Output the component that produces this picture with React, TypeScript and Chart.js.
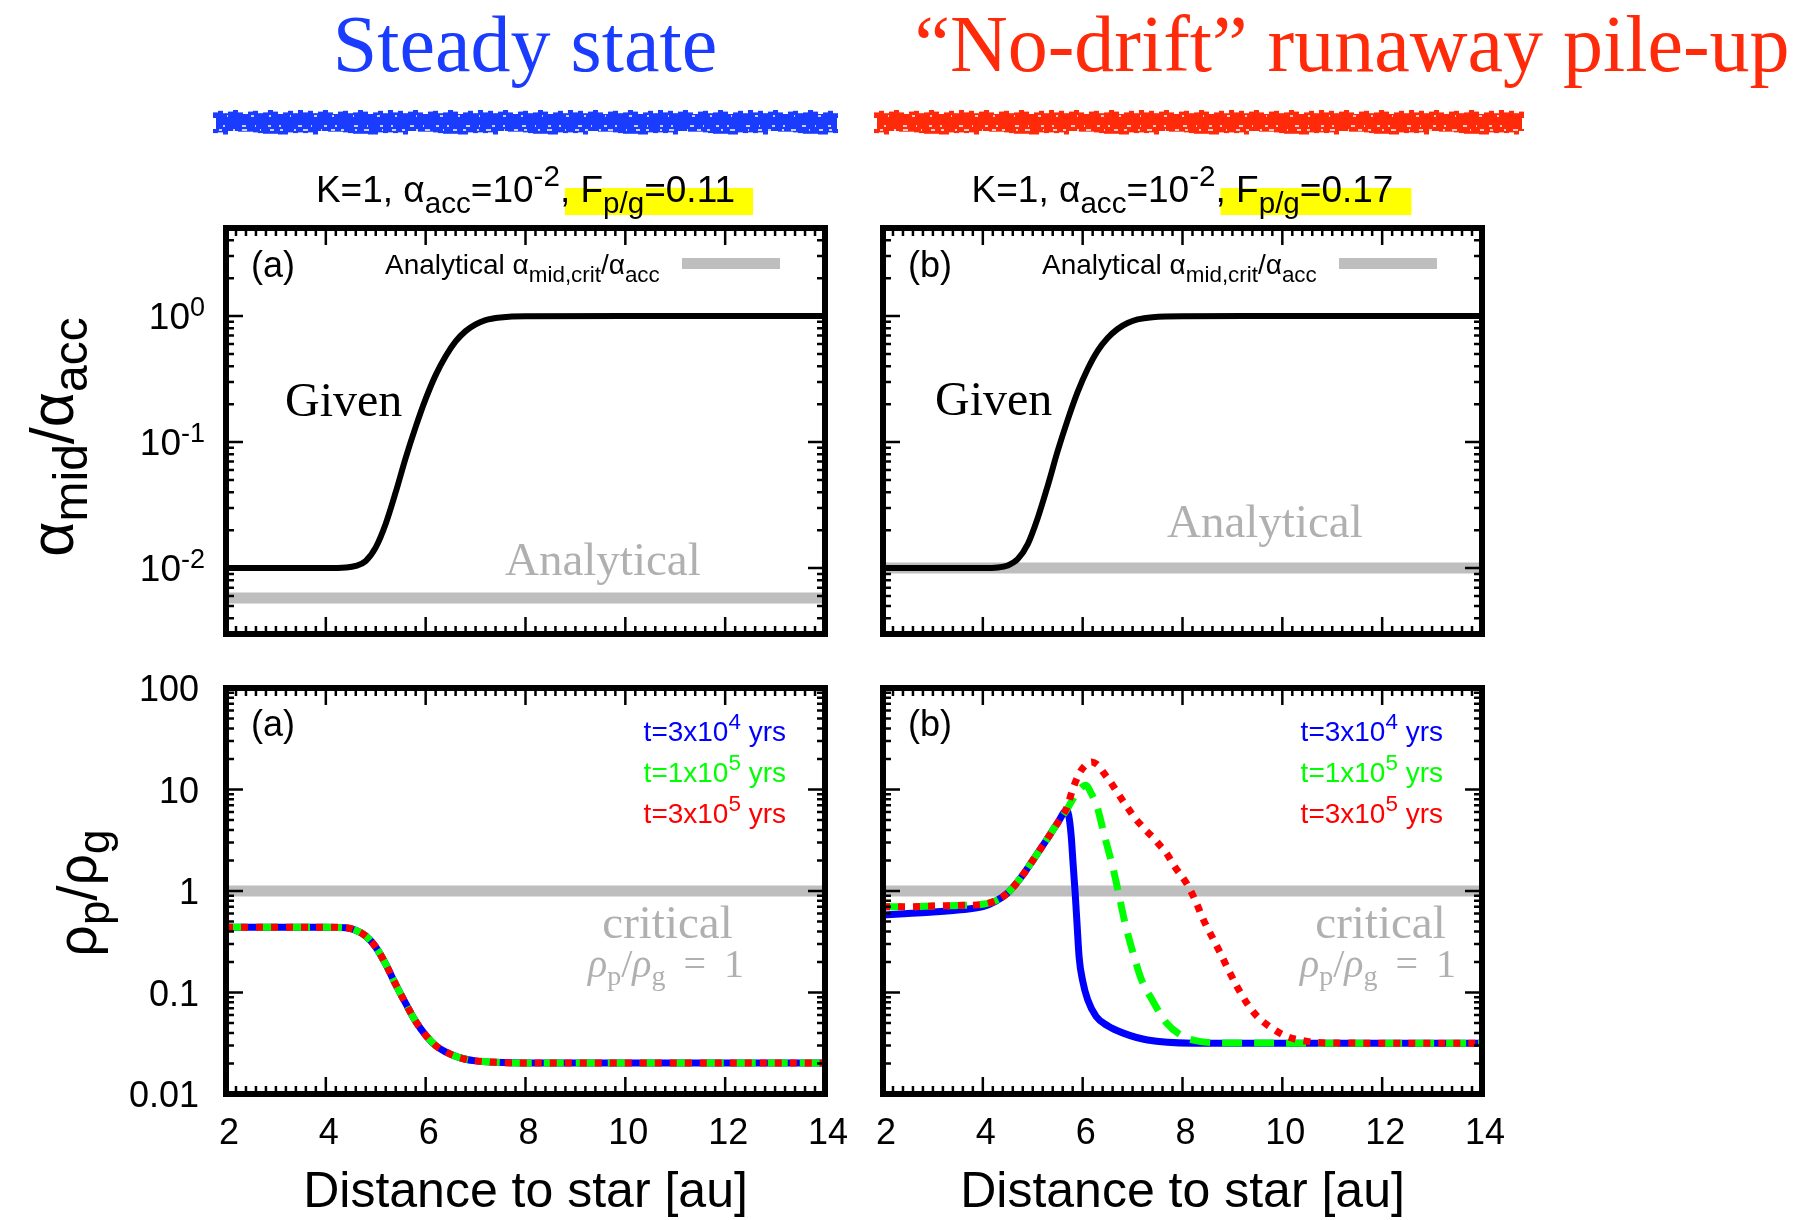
import React, { useEffect, useRef } from "react";
import { Chart, registerables } from "chart.js";

Chart.register(...registerables);

// ---------------- data ----------------
const xRange = [2, 14];
const xTickValues = [2, 4, 6, 8, 10, 12, 14];
const yTopRange = [0.003, 5];
const yTopTickValues = [1, 0.1, 0.01];
const yTopTickExponents = ["0", "-1", "-2"];
const yBottomRange = [0.01, 100];
const yBottomTickValues = [100, 10, 1, 0.1, 0.01];
const yBottomTickLabels = ["100", "10", "1", "0.1", "0.01"];

// (a) top: given alpha_mid/alpha_acc
const givenXA = [2, 3, 4, 4.4, 4.6, 4.8, 5.0, 5.2, 5.4, 5.6, 5.8, 6.0, 6.2, 6.4, 6.6, 6.8, 7.0, 7.2, 7.5, 8, 10, 14];
const givenYA = [0.01, 0.01, 0.01, 0.0101, 0.0104, 0.0114, 0.0146, 0.0225, 0.04, 0.075, 0.132, 0.22, 0.34, 0.48, 0.63, 0.76, 0.86, 0.93, 0.975, 0.997, 1, 1];
// (b) top
const givenXB = [2, 3, 4, 4.3, 4.5, 4.7, 4.9, 5.1, 5.3, 5.5, 5.7, 5.9, 6.1, 6.3, 6.5, 6.7, 6.9, 7.1, 7.4, 8, 10, 14];
const givenYB = [0.01, 0.01, 0.01, 0.0101, 0.0105, 0.0118, 0.0155, 0.025, 0.045, 0.085, 0.15, 0.25, 0.38, 0.53, 0.67, 0.79, 0.88, 0.94, 0.98, 0.998, 1, 1];
// analytical alpha_mid,crit/alpha_acc
const analyticalX = [2, 14];
const analyticalYA = [0.0058, 0.0058];
const analyticalYB = [0.01, 0.01];
// critical rho_p/rho_g = 1
const criticalX = [2, 14];
const criticalY = [1, 1];

// (a) bottom: all three times coincide
const rhoXA = [2, 3, 4, 4.4, 4.6, 4.8, 5.0, 5.2, 5.4, 5.6, 5.8, 6.0, 6.2, 6.4, 6.6, 6.8, 7.0, 7.4, 8, 10, 14];
const rhoYA = [0.44, 0.44, 0.44, 0.435, 0.41, 0.36, 0.28, 0.19, 0.12, 0.078, 0.052, 0.038, 0.03, 0.026, 0.0235, 0.022, 0.0212, 0.0205, 0.0202, 0.0202, 0.0202];

// (b) bottom
const rhoXB_3e4 = [2, 2.5, 3, 3.5, 4, 4.25, 4.5, 4.75, 5.0, 5.25, 5.5, 5.68, 5.72, 5.77, 5.81, 5.85, 5.89, 5.93, 6.0, 6.1, 6.27, 6.5, 6.8, 7.3, 8.2, 10, 14];
const rhoYB_3e4 = [0.58, 0.6, 0.62, 0.65, 0.7, 0.79, 0.96, 1.33, 2.0, 3.05, 4.7, 6.2, 5.6, 3.5, 1.8, 0.95, 0.45, 0.22, 0.13, 0.085, 0.058, 0.047, 0.04, 0.034, 0.0317, 0.0316, 0.0316];
const rhoXB_1e5 = [2, 2.5, 3, 3.5, 4, 4.25, 4.5, 4.75, 5.0, 5.25, 5.5, 5.68, 5.8, 5.9, 6.0, 6.06, 6.18, 6.3, 6.43, 6.6, 6.72, 6.85, 7.01, 7.18, 7.39, 7.68, 8.01, 8.34, 9.0, 14];
const rhoYB_1e5 = [0.7, 0.7, 0.71, 0.72, 0.74, 0.8, 0.96, 1.33, 2.0, 3.05, 4.7, 6.3, 8.0, 9.5, 10.7, 11.0, 9.0, 6.5, 3.6, 1.74, 0.95, 0.48, 0.245, 0.133, 0.085, 0.05, 0.037, 0.033, 0.0318, 0.0316];
const rhoXB_3e5 = [2, 2.5, 3, 3.5, 4, 4.25, 4.5, 4.75, 5.0, 5.25, 5.5, 5.68, 5.8, 5.92, 6.05, 6.18, 6.3, 6.43, 6.55, 6.68, 6.8, 6.93, 7.05, 7.18, 7.3, 7.43, 7.55, 7.68, 7.84, 8.09, 8.26, 8.42, 8.59, 8.76, 8.92, 9.09, 9.29, 9.5, 9.75, 10.08, 10.5, 11, 14];
const rhoYB_3e5 = [0.7, 0.7, 0.71, 0.72, 0.74, 0.8, 0.96, 1.33, 2.0, 3.05, 4.7, 6.6, 10.0, 14.0, 17.3, 18.7, 17.5, 14.4, 12.0, 9.6, 7.8, 6.3, 5.2, 4.4, 3.8, 3.3, 2.8, 2.35, 1.75, 1.17, 0.8, 0.52, 0.355, 0.244, 0.167, 0.115, 0.0785, 0.058, 0.046, 0.037, 0.033, 0.0318, 0.0316];

// ---------------- styles ----------------
const SANS = '"Liberation Sans", Arial, Helvetica, sans-serif';
const SERIF = '"Liberation Serif", "Times New Roman", serif';
const BAND_GRAY = "#bebebe";
const TEXT_GRAY = "#b0b0b0";
const TITLE_BLUE = "#1a3cff";
const TITLE_RED = "#ff2a0a";
const C_BLUE = "#0000ff";
const C_GREEN = "#00ff00";
const C_RED = "#ff0000";

type Seg = { t: string; size: number; dy?: number; family?: string; style?: string; color?: string };

function segFont(s: Seg) {
  return `${s.style ? s.style + " " : ""}${s.size}px ${s.family || SANS}`;
}

function drawRich(
  ctx: CanvasRenderingContext2D,
  segs: Seg[],
  x: number,
  y: number,
  align: "left" | "center" | "right" = "left",
  color = "#000",
  before?: (starts: number[], ws: number[], end: number) => void
) {
  const ws: number[] = [];
  let total = 0;
  for (const s of segs) {
    ctx.font = segFont(s);
    const w = ctx.measureText(s.t).width;
    ws.push(w);
    total += w;
  }
  const cx = align === "right" ? x - total : align === "center" ? x - total / 2 : x;
  const starts: number[] = [];
  let p = cx;
  for (let i = 0; i < segs.length; i++) {
    starts.push(p);
    p += ws[i];
  }
  if (before) before(starts, ws, p);
  ctx.textAlign = "left";
  ctx.textBaseline = "alphabetic";
  segs.forEach((s, i) => {
    ctx.font = segFont(s);
    ctx.fillStyle = s.color || color;
    ctx.fillText(s.t, starts[i], y + (s.dy || 0));
  });
}

function roughBar(ctx: CanvasRenderingContext2D, x: number, y: number, w: number, h: number, color: string) {
  ctx.save();
  ctx.fillStyle = color;
  ctx.fillRect(x + 3, y + 4, w - 6, h - 9);
  const pat = [2, 4, 1, 3, 5, 2, 0, 3, 4, 1, 2, 5, 3, 0, 2, 4, 1, 5];
  let i = 0;
  for (let px = x; px < x + w - 4; px += 5, i++) {
    const a = pat[i % pat.length];
    const b = pat[(i * 7 + 3) % pat.length];
    ctx.fillRect(px, y + 4 - a * 0.8, 5, 4 + a * 0.8);
    ctx.fillRect(px, y + h - 6, 5, 2 + b * 0.7);
  }
  ctx.strokeStyle = "#ffffff";
  ctx.lineWidth = 1.6;
  ctx.setLineDash([3, 11, 2, 7, 5, 13, 1, 9, 4, 6]);
  ctx.beginPath();
  ctx.moveTo(x + 6, y + h - 5);
  ctx.lineTo(x + w - 6, y + h - 5);
  ctx.stroke();
  ctx.setLineDash([2, 17, 4, 9, 1, 12, 3, 8]);
  ctx.beginPath();
  ctx.moveTo(x + 10, y + h - 9);
  ctx.lineTo(x + w - 8, y + h - 9);
  ctx.stroke();
  ctx.setLineDash([1, 23, 3, 15, 2, 19]);
  ctx.beginPath();
  ctx.moveTo(x + 14, y + 6);
  ctx.lineTo(x + w - 10, y + 6);
  ctx.stroke();
  ctx.restore();
}

function pts(xs: number[], ys: number[]) {
  return xs.map((x, i) => ({ x, y: ys[i] }));
}

function bandDs(xs: number[], ys: number[]) {
  return {
    data: pts(xs, ys),
    borderColor: BAND_GRAY,
    borderWidth: 11,
    pointRadius: 0,
    fill: false,
    order: 10,
    clip: 0,
    borderCapStyle: "butt",
  };
}

function curveDs(xs: number[], ys: number[], color: string, width: number, dash: number[], order: number) {
  return {
    data: pts(xs, ys),
    borderColor: color,
    borderWidth: width,
    borderDash: dash,
    pointRadius: 0,
    fill: false,
    cubicInterpolationMode: "monotone",
    order,
    clip: 0,
    borderCapStyle: "butt",
    borderJoinStyle: "round",
  };
}

type Panel = {
  key: string;
  left: number;
  top: number;
  width: number;
  height: number;
  padding: { left: number; right: number; top: number; bottom: number };
  yRange: number[];
  datasets: any[];
  decorate: (ctx: CanvasRenderingContext2D, ca: any, chart: any) => void;
};

function subtitle(ctx: CanvasRenderingContext2D, cx: number, fpg: string) {
  const segs: Seg[] = [
    { t: "K=1, ", size: 37 },
    { t: "α", size: 37 },
    { t: "acc", size: 29.6, dy: 11 },
    { t: "=10", size: 37 },
    { t: "-2", size: 29.6, dy: -16 },
    { t: ", ", size: 37 },
    { t: "F", size: 37 },
    { t: "p/g", size: 29.6, dy: 11 },
    { t: "=" + fpg, size: 37 },
  ];
  const base = 202;
  drawRich(ctx, segs, cx, base, "center", "#000", (starts, ws, end) => {
    ctx.fillStyle = "#ffff00";
    const l = starts[5] + 5;
    ctx.fillRect(l, base - 14, end + 18 - l, 27);
  });
}

function legendTop(ctx: CanvasRenderingContext2D, ca: any) {
  drawRich(
    ctx,
    [
      { t: "Analytical ", size: 28 },
      { t: "α", size: 28 },
      { t: "mid,crit", size: 22.4, dy: 8 },
      { t: "/", size: 28 },
      { t: "α", size: 28 },
      { t: "acc", size: 22.4, dy: 8 },
    ],
    ca.left + 159,
    ca.top + 46,
    "left"
  );
  ctx.fillStyle = BAND_GRAY;
  ctx.fillRect(ca.left + 456, ca.top + 30, 98, 11);
}

function legendBottom(ctx: CanvasRenderingContext2D, ca: any) {
  const rows: [string, string, string][] = [
    ["t=3x10", "4", C_BLUE],
    ["t=1x10", "5", C_GREEN],
    ["t=3x10", "5", C_RED],
  ];
  rows.forEach((r, i) => {
    drawRich(
      ctx,
      [
        { t: r[0], size: 28 },
        { t: r[1], size: 22.4, dy: -12 },
        { t: " yrs", size: 28 },
      ],
      ca.left + 560,
      ca.top + 53 + i * 41,
      "right",
      r[2]
    );
  });
}

function criticalText(ctx: CanvasRenderingContext2D, ca: any, cx1: number, cx2: number) {
  drawRich(ctx, [{ t: "critical", size: 47, family: SERIF }], ca.left + cx1, ca.top + 250, "center", TEXT_GRAY);
  drawRich(
    ctx,
    [
      { t: "ρ", size: 40, family: SERIF, style: "italic" },
      { t: "p", size: 28, family: SERIF, dy: 8 },
      { t: "/", size: 40, family: SERIF },
      { t: "ρ", size: 40, family: SERIF, style: "italic" },
      { t: "g", size: 28, family: SERIF, dy: 8 },
      { t: " \u2009= \u20091", size: 40, family: SERIF },
    ],
    ca.left + cx2,
    ca.top + 289,
    "center",
    TEXT_GRAY
  );
}

function xLabels(ctx: CanvasRenderingContext2D, ca: any, xs: any) {
  ctx.fillStyle = "#000";
  ctx.font = `36px ${SANS}`;
  ctx.textAlign = "center";
  ctx.textBaseline = "alphabetic";
  xTickValues.forEach((v) => {
    ctx.fillText(String(v), xs.getPixelForValue(v) + 3, ca.bottom + 50);
  });
  drawRich(ctx, [{ t: "Distance to star [au]", size: 50 }], (ca.left + ca.right) / 2, ca.bottom + 113, "center");
}

function rotatedTitle(ctx: CanvasRenderingContext2D, segs: Seg[], x: number, cy: number) {
  ctx.save();
  ctx.translate(x, cy);
  ctx.rotate(-Math.PI / 2);
  drawRich(ctx, segs, 0, 0, "center");
  ctx.restore();
}

function framePlugin(p: Panel) {
  return {
    id: "frame_" + p.key,
    beforeDraw(chart: any) {
      const ctx = chart.ctx;
      ctx.save();
      ctx.fillStyle = "#ffffff";
      ctx.fillRect(0, 0, chart.width, chart.height);
      ctx.restore();
    },
    afterDatasetsDraw(chart: any) {
      const ctx: CanvasRenderingContext2D = chart.ctx;
      const ca = chart.chartArea;
      const xs = chart.scales.x;
      const ys = chart.scales.y;
      ctx.save();
      ctx.strokeStyle = "#000";
      ctx.lineCap = "butt";
      ctx.lineWidth = 2.5;
      ctx.beginPath();
      for (let k = 0; k <= 60; k++) {
        const v = xRange[0] + k * 0.2;
        const major = k % 10 === 0;
        const len = major ? 17 : 8;
        const px = xs.getPixelForValue(v);
        ctx.moveTo(px, ca.top);
        ctx.lineTo(px, ca.top + len);
        ctx.moveTo(px, ca.bottom);
        ctx.lineTo(px, ca.bottom - len);
      }
      const lo = Math.floor(Math.log10(p.yRange[0]));
      const hi = Math.ceil(Math.log10(p.yRange[1]));
      for (let e = lo; e <= hi; e++) {
        for (let m = 1; m <= 9; m++) {
          const v = m * Math.pow(10, e);
          if (v < p.yRange[0] * 0.999 || v > p.yRange[1] * 1.001) continue;
          const len = m === 1 ? 17 : 8;
          const py = ys.getPixelForValue(v);
          ctx.moveTo(ca.left, py);
          ctx.lineTo(ca.left + len, py);
          ctx.moveTo(ca.right, py);
          ctx.lineTo(ca.right - len, py);
        }
      }
      ctx.stroke();
      ctx.lineWidth = 6;
      ctx.lineJoin = "miter";
      ctx.strokeRect(ca.left, ca.top, ca.right - ca.left, ca.bottom - ca.top);
      ctx.restore();
      ctx.save();
      p.decorate(ctx, ca, chart);
      ctx.restore();
    },
  };
}

const panels: Panel[] = [
  {
    key: "ta",
    left: 0,
    top: 0,
    width: 860,
    height: 660,
    padding: { left: 226, right: 35, top: 228, bottom: 26 },
    yRange: yTopRange,
    datasets: [bandDs(analyticalX, analyticalYA), curveDs(givenXA, givenYA, "#000", 6, [], 1)],
    decorate(ctx, ca, chart) {
      drawRich(ctx, [{ t: "Steady state", size: 80, family: SERIF }], 525, 71, "center", TITLE_BLUE);
      roughBar(ctx, 213, 110, 627, 25, TITLE_BLUE);
      subtitle(ctx, (ca.left + ca.right) / 2, "0.11");
      drawRich(ctx, [{ t: "(a)", size: 36 }], ca.left + 25, ca.top + 49);
      legendTop(ctx, ca);
      drawRich(ctx, [{ t: "Given", size: 48, family: SERIF }], ca.left + 59, ca.top + 188);
      drawRich(ctx, [{ t: "Analytical", size: 47, family: SERIF }], ca.left + 279, ca.top + 347, "left", TEXT_GRAY);
      const ys = chart.scales.y;
      yTopTickValues.forEach((v, i) => {
        const py = ys.getPixelForValue(v);
        drawRich(
          ctx,
          [
            { t: "10", size: 37 },
            { t: yTopTickExponents[i], size: 27, dy: -13 },
          ],
          ca.left - 21,
          py + 13,
          "right"
        );
      });
      rotatedTitle(
        ctx,
        [
          { t: "α", size: 61 },
          { t: "mid", size: 48, dy: 14 },
          { t: "/", size: 61 },
          { t: "α", size: 61 },
          { t: "acc", size: 48, dy: 14 },
        ],
        73,
        (ca.top + ca.bottom) / 2 + 6
      );
    },
  },
  {
    key: "tb",
    left: 860,
    top: 0,
    width: 944,
    height: 660,
    padding: { left: 23, right: 322, top: 228, bottom: 26 },
    yRange: yTopRange,
    datasets: [bandDs(analyticalX, analyticalYB), curveDs(givenXB, givenYB, "#000", 6, [], 1)],
    decorate(ctx, ca) {
      drawRich(ctx, [{ t: "\u201CNo-drift\u201D runaway pile-up", size: 80, family: SERIF }], 492, 71, "center", TITLE_RED);
      roughBar(ctx, 14, 110, 651, 25, TITLE_RED);
      subtitle(ctx, (ca.left + ca.right) / 2, "0.17");
      drawRich(ctx, [{ t: "(b)", size: 36 }], ca.left + 25, ca.top + 49);
      legendTop(ctx, ca);
      drawRich(ctx, [{ t: "Given", size: 48, family: SERIF }], ca.left + 52, ca.top + 187);
      drawRich(ctx, [{ t: "Analytical", size: 47, family: SERIF }], ca.left + 284, ca.top + 309, "left", TEXT_GRAY);
    },
  },
  {
    key: "ba",
    left: 0,
    top: 660,
    width: 860,
    height: 560,
    padding: { left: 226, right: 35, top: 28, bottom: 126 },
    yRange: yBottomRange,
    datasets: [
      bandDs(criticalX, criticalY),
      curveDs(rhoXA, rhoYA, C_BLUE, 7, [], 3),
      curveDs(rhoXA, rhoYA, C_GREEN, 7, [20, 12], 2),
      curveDs(rhoXA, rhoYA, C_RED, 7, [7, 8], 1),
    ],
    decorate(ctx, ca, chart) {
      drawRich(ctx, [{ t: "(a)", size: 36 }], ca.left + 25, ca.top + 48);
      legendBottom(ctx, ca);
      criticalText(ctx, ca, 441.5, 440);
      xLabels(ctx, ca, chart.scales.x);
      const ys = chart.scales.y;
      yBottomTickValues.forEach((v, i) => {
        const py = ys.getPixelForValue(v);
        drawRich(ctx, [{ t: yBottomTickLabels[i], size: 36 }], ca.left - 27, py + 13, "right");
      });
      rotatedTitle(
        ctx,
        [
          { t: "ρ", size: 55 },
          { t: "p", size: 44, dy: 13 },
          { t: "/", size: 55 },
          { t: "ρ", size: 55 },
          { t: "g", size: 44, dy: 13 },
        ],
        96,
        (ca.top + ca.bottom) / 2 + 2
      );
    },
  },
  {
    key: "bb",
    left: 860,
    top: 660,
    width: 944,
    height: 560,
    padding: { left: 23, right: 322, top: 28, bottom: 126 },
    yRange: yBottomRange,
    datasets: [
      bandDs(criticalX, criticalY),
      curveDs(rhoXB_3e4, rhoYB_3e4, C_BLUE, 7, [], 3),
      curveDs(rhoXB_1e5, rhoYB_1e5, C_GREEN, 7, [20, 12], 2),
      curveDs(rhoXB_3e5, rhoYB_3e5, C_RED, 7, [7, 8], 1),
    ],
    decorate(ctx, ca, chart) {
      drawRich(ctx, [{ t: "(b)", size: 36 }], ca.left + 25, ca.top + 48);
      legendBottom(ctx, ca);
      criticalText(ctx, ca, 497.5, 495);
      xLabels(ctx, ca, chart.scales.x);
    },
  },
];

export default function App() {
  const refs = useRef<(HTMLCanvasElement | null)[]>([]);

  useEffect(() => {
    const charts: Chart[] = [];
    panels.forEach((p, i) => {
      const canvas = refs.current[i];
      if (!canvas) return;
      canvas.width = p.width;
      canvas.height = p.height;
      const chart = new Chart(canvas, {
        type: "line",
        data: { datasets: p.datasets as any },
        options: {
          responsive: false,
          maintainAspectRatio: false,
          animation: false,
          devicePixelRatio: 1,
          events: [],
          layout: { padding: p.padding },
          plugins: { legend: { display: false }, tooltip: { enabled: false }, title: { display: false } },
          scales: {
            x: { type: "linear", min: xRange[0], max: xRange[1], display: false },
            y: { type: "logarithmic", min: p.yRange[0], max: p.yRange[1], display: false },
          },
        } as any,
        plugins: [framePlugin(p)],
      });
      charts.push(chart);
    });
    const fonts = [`80px "Liberation Serif"`, `italic 40px "Liberation Serif"`, `36px "Liberation Sans"`];
    Promise.all(fonts.map((f) => (document as any).fonts?.load(f).catch(() => null)))
      .then(() => charts.forEach((c) => c.draw()))
      .catch(() => null);
    return () => {
      charts.forEach((c) => c.destroy());
    };
  }, []);

  return (
    <div style={{ position: "absolute", left: 0, top: 0, width: 1804, height: 1220, background: "#fff", overflow: "hidden" }}>
      {panels.map((p, i) => (
        <canvas
          key={p.key}
          ref={(el) => {
            refs.current[i] = el;
          }}
          width={p.width}
          height={p.height}
          style={{ position: "absolute", left: p.left, top: p.top, width: p.width, height: p.height }}
        />
      ))}
    </div>
  );
}
